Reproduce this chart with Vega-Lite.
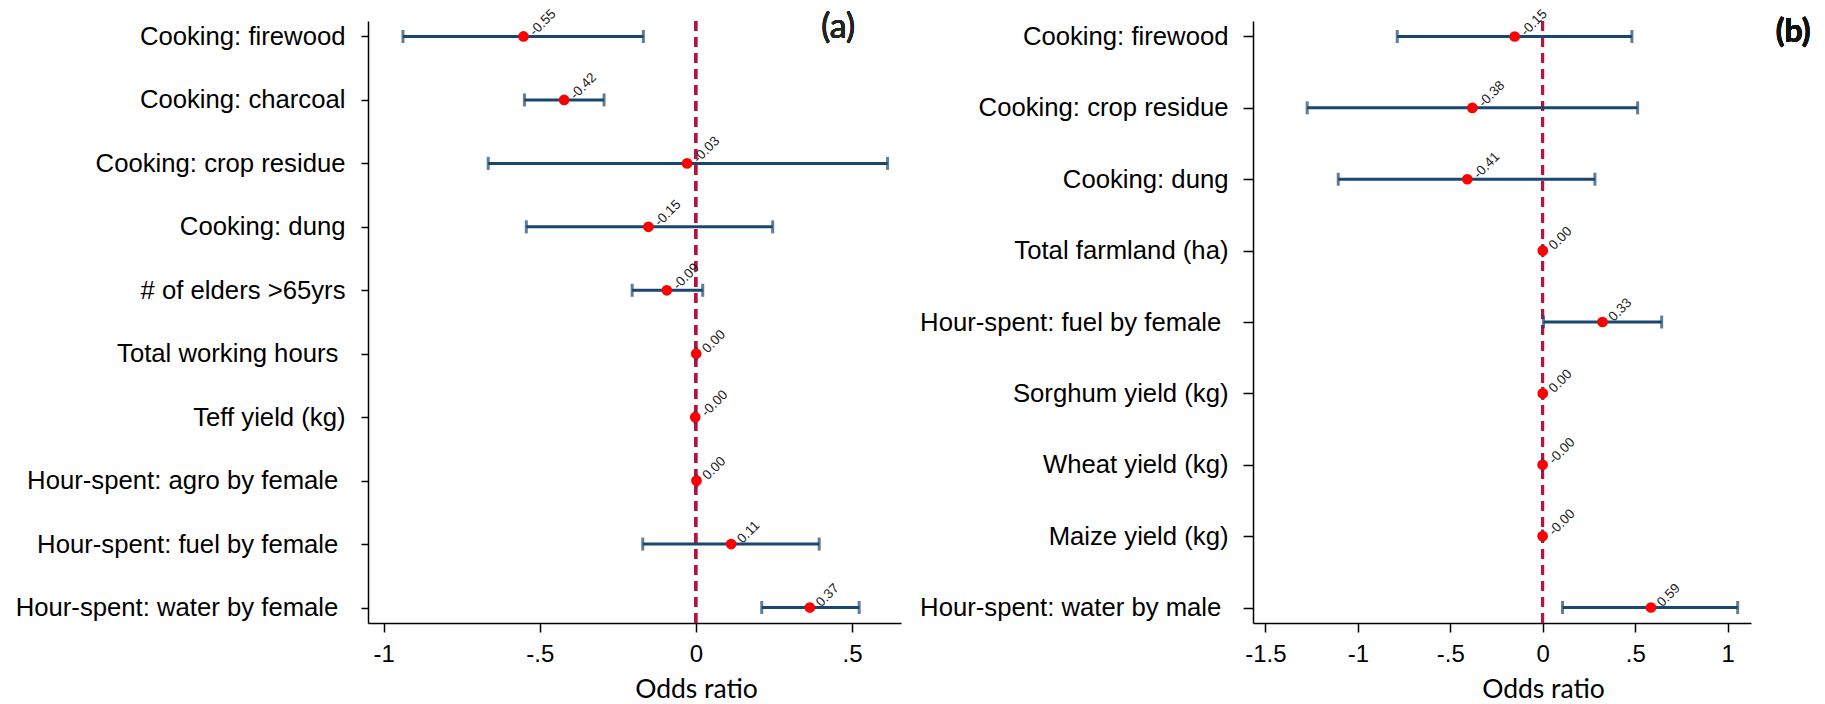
{
  "$schema": "https://vega.github.io/schema/vega-lite/v6.json",
  "padding": {"left": 15, "top": 6, "right": 5, "bottom": 5},
  "background": "white",
  "spacing": 18,
  "datasets": {
    "a": [
      {"var": "Cooking: firewood", "b": -0.552, "lo": -0.938, "hi": -0.168, "lab": "-0.55"},
      {"var": "Cooking: charcoal", "b": -0.422, "lo": -0.549, "hi": -0.294, "lab": "-0.42"},
      {"var": "Cooking: crop residue", "b": -0.028, "lo": -0.665, "hi": 0.614, "lab": "-0.03"},
      {"var": "Cooking: dung", "b": -0.152, "lo": -0.543, "hi": 0.246, "lab": "-0.15"},
      {"var": "# of elders >65yrs", "b": -0.093, "lo": -0.204, "hi": 0.022, "lab": "-0.09"},
      {"var": "Total working hours\u00a0\u200b", "b": 0.001, "lo": 0.0, "hi": 0.002, "lab": "0.00"},
      {"var": "Teff yield (kg)", "b": -0.002, "lo": -0.003, "hi": -0.001, "lab": "-0.00"},
      {"var": "Hour-spent: agro by female\u00a0\u200b", "b": 0.002, "lo": 0.001, "hi": 0.003, "lab": "0.00"},
      {"var": "Hour-spent: fuel by female\u00a0\u200b", "b": 0.113, "lo": -0.17, "hi": 0.395, "lab": "0.11"},
      {"var": "Hour-spent: water by female\u00a0\u200b", "b": 0.365, "lo": 0.211, "hi": 0.523, "lab": "0.37"}
    ],
    "b": [
      {"var": "Cooking: firewood", "b": -0.152, "lo": -0.787, "hi": 0.482, "lab": "-0.15"},
      {"var": "Cooking: crop residue", "b": -0.381, "lo": -1.274, "hi": 0.513, "lab": "-0.38"},
      {"var": "Cooking: dung", "b": -0.408, "lo": -1.106, "hi": 0.282, "lab": "-0.41"},
      {"var": "Total farmland (ha)", "b": 0.0, "lo": 0.0, "hi": 0.0, "lab": "0.00"},
      {"var": "Hour-spent: fuel by female\u00a0\u200b", "b": 0.323, "lo": 0.004, "hi": 0.643, "lab": "0.33"},
      {"var": "Sorghum yield (kg)", "b": 0.0, "lo": 0.0, "hi": 0.0, "lab": "0.00"},
      {"var": "Wheat yield (kg)", "b": -0.001, "lo": -0.001, "hi": -0.001, "lab": "-0.00"},
      {"var": "Maize yield (kg)", "b": -0.001, "lo": -0.001, "hi": -0.001, "lab": "-0.00"},
      {"var": "Hour-spent: water by male\u00a0\u200b", "b": 0.585, "lo": 0.107, "hi": 1.054, "lab": "0.59"}
    ]
  },
  "hconcat": [
    {
      "width": 533,
      "height": 602,
      "data": {"name": "a"},
      "layer": [
        {
          "mark": {"type": "rule", "color": "#b8123f", "strokeWidth": 2.5, "strokeDash": [10, 6]},
          "encoding": {
            "x": {"datum": 0, "type": "quantitative",
              "scale": {"domain": [-1.05, 0.657], "nice": false, "zero": false},
              "axis": {"title": "Odds ratio", "values": [-1, -0.5, 0, 0.5],
                "labelExpr": "replace(replace(format(datum.value, '~g'), '\u2212', '-'), '0.', '.')",
                "titleX": 328, "titleAlign": "center", "titlePadding": 10}}
          }
        },
        {
          "mark": {"type": "rule", "color": "#1a476f", "strokeWidth": 3},
          "encoding": {
            "x": {"field": "lo", "type": "quantitative", "scale": {"domain": [-1.05, 0.657], "nice": false, "zero": false}},
            "x2": {"field": "hi"},
            "y": {"field": "var", "type": "nominal",
              "scale": {"type": "point", "padding": 0.244, "domain": ["Cooking: firewood", "Cooking: charcoal", "Cooking: crop residue", "Cooking: dung", "# of elders >65yrs", "Total working hours\u00a0\u200b", "Teff yield (kg)", "Hour-spent: agro by female\u00a0\u200b", "Hour-spent: fuel by female\u00a0\u200b", "Hour-spent: water by female\u00a0\u200b"]},
              "axis": {"title": null, "tickSize": 7, "labelPadding": 16}}
          }
        },
        {
          "mark": {"type": "tick", "color": "#1a476f", "thickness": 3, "size": 13},
          "encoding": {
            "x": {"field": "lo", "type": "quantitative", "scale": {"domain": [-1.05, 0.657], "nice": false, "zero": false}},
            "y": {"field": "var", "type": "nominal"}
          }
        },
        {
          "mark": {"type": "tick", "color": "#1a476f", "thickness": 3, "size": 13},
          "encoding": {
            "x": {"field": "hi", "type": "quantitative", "scale": {"domain": [-1.05, 0.657], "nice": false, "zero": false}},
            "y": {"field": "var", "type": "nominal"}
          }
        },
        {
          "mark": {"type": "point", "filled": true, "color": "#ff0000", "opacity": 1, "size": 115},
          "encoding": {
            "x": {"field": "b", "type": "quantitative", "scale": {"domain": [-1.05, 0.657], "nice": false, "zero": false}},
            "y": {"field": "var", "type": "nominal"}
          }
        },
        {
          "mark": {"type": "text", "angle": 315, "align": "left", "baseline": "alphabetic", "dx": 8, "dy": 8, "fontSize": 13.5, "font": "Liberation Sans", "color": "#222222"},
          "encoding": {
            "x": {"field": "b", "type": "quantitative", "scale": {"domain": [-1.05, 0.657], "nice": false, "zero": false}},
            "y": {"field": "var", "type": "nominal"},
            "text": {"field": "lab"}
          }
        },
        {
          "mark": {"type": "text", "align": "center", "baseline": "middle", "dy": -8, "fontSize": 34, "font": "Lato", "fontWeight": "normal", "color": "#222222"},
          "encoding": {
            "x": {"datum": 0.456, "type": "quantitative", "scale": {"domain": [-1.05, 0.657], "nice": false, "zero": false}},
            "y": {"datum": "Cooking: firewood", "type": "nominal"},
            "text": {"value": "(a)"}
          }
        }
      ]
    },
    {
      "width": 498,
      "height": 602,
      "data": {"name": "b"},
      "layer": [
        {
          "mark": {"type": "rule", "color": "#b8123f", "strokeWidth": 2.5, "strokeDash": [10, 6]},
          "encoding": {
            "x": {"datum": 0, "type": "quantitative",
              "scale": {"domain": [-1.567, 1.126], "nice": false, "zero": false},
              "axis": {"title": "Odds ratio", "values": [-1.5, -1, -0.5, 0, 0.5, 1],
                "labelExpr": "replace(replace(format(datum.value, '~g'), '\u2212', '-'), '0.', '.')",
                "titleX": 290, "titleAlign": "center", "titlePadding": 10}}
          }
        },
        {
          "mark": {"type": "rule", "color": "#1a476f", "strokeWidth": 3},
          "encoding": {
            "x": {"field": "lo", "type": "quantitative", "scale": {"domain": [-1.567, 1.126], "nice": false, "zero": false}},
            "x2": {"field": "hi"},
            "y": {"field": "var", "type": "nominal",
              "scale": {"type": "point", "padding": 0.217, "domain": ["Cooking: firewood", "Cooking: crop residue", "Cooking: dung", "Total farmland (ha)", "Hour-spent: fuel by female\u00a0\u200b", "Sorghum yield (kg)", "Wheat yield (kg)", "Maize yield (kg)", "Hour-spent: water by male\u00a0\u200b"]},
              "axis": {"title": null, "tickSize": 10, "labelPadding": 15}}
          }
        },
        {
          "mark": {"type": "tick", "color": "#1a476f", "thickness": 3, "size": 13},
          "encoding": {
            "x": {"field": "lo", "type": "quantitative", "scale": {"domain": [-1.567, 1.126], "nice": false, "zero": false}},
            "y": {"field": "var", "type": "nominal"}
          }
        },
        {
          "mark": {"type": "tick", "color": "#1a476f", "thickness": 3, "size": 13},
          "encoding": {
            "x": {"field": "hi", "type": "quantitative", "scale": {"domain": [-1.567, 1.126], "nice": false, "zero": false}},
            "y": {"field": "var", "type": "nominal"}
          }
        },
        {
          "mark": {"type": "point", "filled": true, "color": "#ff0000", "opacity": 1, "size": 115},
          "encoding": {
            "x": {"field": "b", "type": "quantitative", "scale": {"domain": [-1.567, 1.126], "nice": false, "zero": false}},
            "y": {"field": "var", "type": "nominal"}
          }
        },
        {
          "mark": {"type": "text", "angle": 315, "align": "left", "baseline": "alphabetic", "dx": 8, "dy": 8, "fontSize": 13.5, "font": "Liberation Sans", "color": "#222222"},
          "encoding": {
            "x": {"field": "b", "type": "quantitative", "scale": {"domain": [-1.567, 1.126], "nice": false, "zero": false}},
            "y": {"field": "var", "type": "nominal"},
            "text": {"field": "lab"}
          }
        },
        {
          "mark": {"type": "text", "align": "center", "baseline": "middle", "dy": -4, "fontSize": 32, "font": "Lato", "fontWeight": "bold", "color": "#111111"},
          "encoding": {
            "x": {"datum": 1.354, "type": "quantitative", "scale": {"domain": [-1.567, 1.126], "nice": false, "zero": false}},
            "y": {"datum": "Cooking: firewood", "type": "nominal"},
            "text": {"value": "(b)"}
          }
        }
      ]
    }
  ],
  "resolve": {"scale": {"x": "independent", "y": "independent"}},
  "config": {
    "view": {"stroke": null},
    "axis": {
      "grid": false,
      "domainColor": "#000000",
      "domainWidth": 1.5,
      "tickColor": "#000000",
      "tickWidth": 1.5,
      "labelColor": "#000000",
      "labelFont": "Liberation Sans",
      "titleColor": "#000000",
      "titleFont": "Lato",
      "titleFontWeight": "normal",
      "titleFontSize": 26.5
    },
    "axisX": {"tickSize": 9, "labelPadding": 10, "labelFontSize": 24, "labelFlush": false},
    "axisY": {"labelFontSize": 25.7, "labelLimit": 0}
  }
}
